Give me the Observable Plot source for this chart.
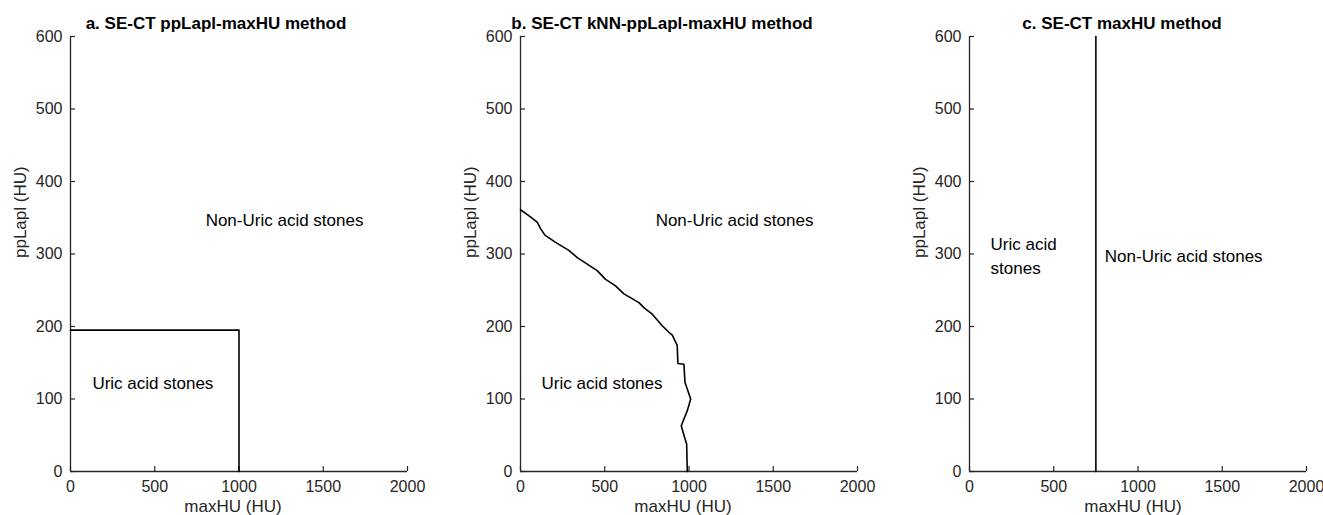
<!DOCTYPE html>
<html>
<head>
<meta charset="utf-8">
<script src="https://cdn.jsdelivr.net/npm/d3@7"></script>
<script src="https://cdn.jsdelivr.net/npm/@observablehq/plot@0.6"></script>
<style>
  html, body { margin: 0; padding: 0; background: #fff; }
  #wrap { position: relative; width: 1323px; height: 515px; overflow: hidden; }
  .panel { position: absolute; top: 0; width: 450px; height: 515px; }
  .panel svg { max-width: none !important; }
  svg { font-family: "Liberation Sans", Arial, Helvetica, sans-serif; }
</style>
</head>
<body>
<div id="wrap"></div>
<script>
// ---- data ----
const xTicks = [0, 500, 1000, 1500, 2000];
const yTicks = [0, 100, 200, 300, 400, 500, 600];
const titles = ["a. SE-CT ppLapl-maxHU method", "b. SE-CT kNN-ppLapl-maxHU method", "c. SE-CT maxHU method"];
const xLabel = "maxHU (HU)";
const yLabel = "ppLapl (HU)";

// panel a: rectangular decision boundary
const boundaryA_x = [0, 1000, 1000];
const boundaryA_y = [195, 195, 0];

// panel b: kNN decision boundary
const boundaryB_x = [0, 49, 99, 119, 145, 208, 287, 337, 396, 455, 505, 564, 614, 703, 732, 782, 841, 881, 901, 930, 934, 970, 976, 1010, 990, 954, 970, 986, 990];
const boundaryB_y = [361, 353, 344, 335, 326, 316, 305, 295, 286, 277, 265, 256, 245, 233, 226, 217, 201, 192, 188, 174, 149, 148, 123, 100, 84, 63, 50, 38, 0];

// panel c: vertical threshold
const boundaryC_x = [750, 750];
const boundaryC_y = [0, 600];

// region annotations (data coordinates)
const regionText = [
  ["Non-Uric acid stones", "Uric acid stones"],
  ["Non-Uric acid stones", "Uric acid stones"],
  ["Non-Uric acid stones", "Uric acid\nstones"]
];
const regionX = [[802, 130], [802, 125], [803, 125]];
const regionY = [[349, 124], [349, 124], [299, 300]];

// ---- layout/styling ----
const panelLeft = [0, 450, 899];
const titleDx = [-23, -27, -16];
const xLabelDx = [-6, -6, -5];
const W = 450, H = 515, mL = 70, mR = 43, mT = 36, mB = 44;
const frameW = W - mL - mR, frameH = H - mT - mB;
const axisColor = "#262626";

function panel(i) {
  const bx = [boundaryA_x, boundaryB_x, boundaryC_x][i];
  const by = [boundaryA_y, boundaryB_y, boundaryC_y][i];
  const pts = bx.map((x, j) => ({x, y: by[j]}));
  const ann = regionText[i].map((t, j) => ({t, x: regionX[i][j], y: regionY[i][j]}));
  return Plot.plot({
    width: W, height: H,
    marginLeft: mL, marginRight: mR, marginTop: mT, marginBottom: mB,
    style: {fontFamily: '"Liberation Sans", Arial, Helvetica, sans-serif', background: "white", overflow: "visible", maxWidth: "none"},
    x: {domain: [0, 2000], axis: null},
    y: {domain: [0, 600], axis: null},
    marks: [
      Plot.axisX({ticks: xTicks, tickSize: 0, tickPadding: 9, fontSize: 16, fill: axisColor, label: null, tickFormat: d => String(d)}),
      Plot.axisY({ticks: yTicks, tickSize: 0, tickPadding: 8, fontSize: 16, fill: axisColor, label: null, tickFormat: d => String(d)}),
      Plot.tickX(xTicks, {x: d => d, insetTop: frameH - 5, stroke: axisColor, strokeWidth: 1.2}),
      Plot.tickY(yTicks, {y: d => d, insetRight: frameW - 5, stroke: axisColor, strokeWidth: 1.2}),
      Plot.ruleX([0], {stroke: axisColor, strokeWidth: 1.3}),
      Plot.ruleY([0], {stroke: axisColor, strokeWidth: 1.3}),
      Plot.line(pts, {x: "x", y: "y", stroke: "black", strokeWidth: 1.6}),
      Plot.text(ann, {x: "x", y: "y", text: "t", textAnchor: "start", lineAnchor: "middle", lineHeight: 1.42, fontSize: 17, fill: "black"}),
      Plot.text([titles[i]], {text: d => d, frameAnchor: "top", lineAnchor: "bottom", dy: -8, dx: titleDx[i], fontSize: 17, fontWeight: "bold", fill: "black"}),
      Plot.text([xLabel], {text: d => d, frameAnchor: "bottom", lineAnchor: "bottom", dy: 40, dx: xLabelDx[i], fontSize: 17, fill: axisColor}),
      Plot.text([yLabel], {text: d => d, frameAnchor: "left", rotate: -90, lineAnchor: "bottom", dx: -44.5, dy: 4, fontSize: 17, fill: axisColor})
    ]
  });
}

const wrap = document.getElementById("wrap");
for (let i = 0; i < 3; i++) {
  const d = document.createElement("div");
  d.className = "panel";
  d.style.left = panelLeft[i] + "px";
  d.appendChild(panel(i));
  wrap.appendChild(d);
}
</script>
</body>
</html>
